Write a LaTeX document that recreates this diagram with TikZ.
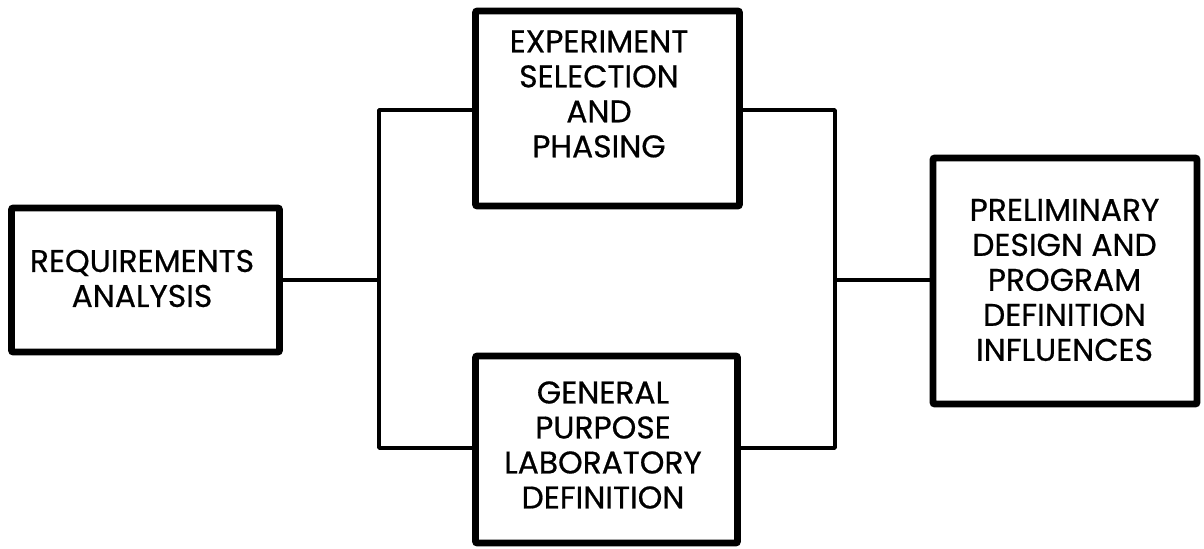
\documentclass[tikz,border=0pt]{standalone}
\usepackage{fontspec}
\setmainfont{Poppins}[FakeBold=0.6]
\begin{document}
\begin{tikzpicture}[x=0.75pt,y=-0.75pt,
  box/.style={draw=black,line width=5.2pt,rounded corners=1.5pt,inner sep=0pt},
  txt/.style={align=center,inner sep=0pt,font=\fontsize{23.5}{26.25}\selectfont},
  conn/.style={draw=black,line width=2.8pt,line cap=round,line join=round}]
\useasboundingbox (0,0) rectangle (1204,549);
\node[box,minimum width=201pt,minimum height=108pt] (req) at (145.5,280) {};
\node[box,minimum width=198pt,minimum height=146.25pt] (exp) at (607.5,108.5) {};
\node[box,minimum width=196.5pt,minimum height=140.25pt] (gp) at (606.5,449.5) {};
\node[box,minimum width=198pt,minimum height=184.5pt] (pre) at (1065,281) {};
\node[txt] (treq) at (142,278.5) {REQUIREMENTS\\ANALYSIS};
\node[txt] (texp) at (599,94) {EXPERIMENT\\SELECTION\\AND\\PHASING};
\node[txt] (tgp) at (603,445) {GENERAL\\PURPOSE\\LABORATORY\\DEFINITION};
\node[txt] (tpre) at (1064.5,280) {PRELIMINARY\\DESIGN AND\\PROGRAM\\DEFINITION\\INFLUENCES};
\coordinate (lt) at (379,110);
\coordinate (lm) at (379,280);
\coordinate (lb) at (379,448);
\coordinate (rt) at (835,110);
\coordinate (rm) at (835,280);
\coordinate (rb) at (835,448);
\draw[conn] (req.east |- lm) -- (lm);
\draw[conn] (exp.west |- lt) -- (lt) -- (lb) -- (gp.west |- lb);
\draw[conn] (exp.east |- rt) -- (rt) -- (rb) -- (gp.east |- rb);
\draw[conn] (rm) -- (pre.west |- rm);
\end{tikzpicture}
\end{document}
